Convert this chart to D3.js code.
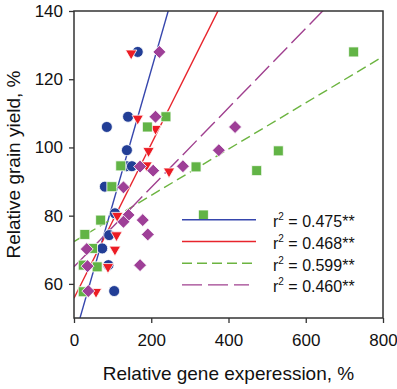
<!DOCTYPE html>
<html lang="en">
<head>
    <meta charset="UTF-8">
    <title>Grain yield vs gene expression</title>
    <script src="https://d3js.org/d3.v7.min.js"></script>
    <style>
        body {margin:0;background:#fff}
        text {font-family:"Liberation Sans", Arial, sans-serif}
    </style>
</head>
<body>
    <div id="chart"></div>
    <script>
        // points (x = relative gene expression %, y = relative grain yield %)
        var blueX = [165, 140, 85, 137, 136, 150, 80, 106, 91, 73, 89, 104];
        var blueY = [128, 109, 106, 99.2, 94.5, 94.5, 88.5, 80.7, 74.3, 70.4, 65.5, 57.9];
        var redX = [148, 165, 211, 193, 188, 246, 112, 110, 106, 88, 57];
        var redY = [127.6, 108.5, 105.5, 99, 94.8, 93, 80, 74.3, 70.1, 65, 57.7];
        var greenX = [724, 238, 190, 121, 316, 473, 529, 98, 335, 69, 28, 48, 60, 24, 24];
        var greenY = [128, 109, 106, 94.6, 94.3, 93.2, 99, 88.5, 80.2, 78.7, 74.5, 70.4, 65, 65.5, 57.7];
        var purpleX = [221, 211, 417, 375, 171, 205, 282, 128, 141, 128, 178, 191, 33, 35, 171, 37];
        var purpleY = [128, 109, 106, 99.2, 94.4, 93.2, 94.5, 88.3, 80.2, 78.2, 78.7, 74.5, 70.2, 65.2, 65.5, 57.9];

        // fitted lines: y = intercept + slope * x
        var fitIntercepts = [43.9, 55.8, 72.4, 65.0];
        var fitSlopes = [0.394, 0.226, 0.0678, 0.1165];
        var r2Labels = ["0.475**", "0.468**", "0.599**", "0.460**"];

        var xTicks = [0, 200, 400, 600, 800];
        var yTicks = [60, 80, 100, 120, 140];

        var W = 397, H = 389;
        var margin = { top: 11, right: 14, bottom: 71, left: 74 };
        var w = W - margin.left - margin.right;
        var h = H - margin.top - margin.bottom;

        var markColors = ["#223e96", "#ec1c24", "#62b446", "#9e3f97"];
        var lineColors = ["#3646ad", "#e8242c", "#6cb440", "#a0408f"];
        var dashes = [null, null, "10,5", "20,6"];

        var svg = d3.select("#chart")
            .append("svg")
            .attr("width", W)
            .attr("height", H);

        var g = svg.append("g")
            .attr("transform", `translate(${margin.left},${margin.top})`);

        var xScale = d3.scaleLinear().domain([0, 800]).range([0, w]);
        var yScale = d3.scaleLinear().domain([50, 140]).range([h, 0]);

        g.append("clipPath").attr("id", "plotclip")
            .append("rect").attr("width", w).attr("height", h);

        // regression lines
        var fits = fitIntercepts.map((a, i) => ({ a: a, b: fitSlopes[i], i: i }));
        var line = d3.line().x(d => xScale(d[0])).y(d => yScale(d[1]));
        g.append("g").attr("clip-path", "url(#plotclip)")
            .selectAll("path")
            .data(fits)
            .enter()
            .append("path")
            .attr("d", d => line(xScale.domain().map(x => [x, d.a + d.b * x])))
            .attr("fill", "none")
            .attr("stroke", d => lineColors[d.i])
            .attr("stroke-width", 1.4)
            .attr("stroke-dasharray", d => dashes[d.i]);

        // markers
        function pts(xs, ys) { return xs.map((x, i) => [x, ys[i]]); }
        var series = [
            { data: pts(blueX, blueY), sym: d3.symbol().type(d3.symbolCircle).size(95), rot: 0 },
            { data: pts(redX, redY), sym: d3.symbol().type(d3.symbolTriangle).size(56), rot: 180 },
            { data: pts(greenX, greenY), sym: d3.symbol().type(d3.symbolSquare).size(100), rot: 0 },
            { data: pts(purpleX, purpleY), sym: d3.symbol().type(d3.symbolSquare).size(84), rot: 45 }
        ];
        series.forEach(function(s, k) {
            g.append("g")
                .selectAll("path")
                .data(s.data)
                .enter()
                .append("path")
                .attr("d", s.sym)
                .attr("transform", d => `translate(${xScale(d[0])},${yScale(d[1])}) rotate(${s.rot})`)
                .attr("fill", markColors[k])
                .attr("stroke", "#fff")
                .attr("stroke-width", 0.8);
        });

        // axes
        var xAxis = g.append("g")
            .attr("transform", `translate(0,${h})`)
            .call(d3.axisBottom(xScale).tickValues(xTicks).tickSize(5).tickPadding(11).tickSizeOuter(0));
        var yAxis = g.append("g")
            .call(d3.axisLeft(yScale).tickValues(yTicks).tickSize(5).tickPadding(6).tickSizeOuter(0));
        [xAxis, yAxis].forEach(function(ax) {
            ax.selectAll("text").attr("font-size", "17px").attr("fill", "#111")
                .attr("font-family", "'Liberation Sans', Arial, sans-serif");
            ax.selectAll("line").attr("stroke", "#333").attr("stroke-width", 1.3);
            ax.select(".domain").remove();
        });

        g.append("rect")
            .attr("width", w)
            .attr("height", h)
            .attr("fill", "none")
            .attr("stroke", "#333")
            .attr("stroke-width", 1.5);

        // legend
        var legend = g.append("g");
        var rows = legend.selectAll("g")
            .data(r2Labels)
            .enter()
            .append("g")
            .attr("transform", (d, i) => `translate(0,${219.8 + i * 21.7 - margin.top})`);
        rows.append("line")
            .attr("x1", 182 - margin.left)
            .attr("x2", (d, i) => (i === 3 ? 249 : 256) - margin.left)
            .attr("stroke", (d, i) => lineColors[i])
            .attr("stroke-width", 1.4)
            .attr("stroke-dasharray", (d, i) => dashes[i]);
        var lt = rows.append("text")
            .attr("x", 273 - margin.left)
            .attr("y", 7.5)
            .attr("font-size", "16px")
            .attr("fill", "#111");
        lt.append("tspan").text("r");
        lt.append("tspan").attr("font-size", "10px").attr("dy", -7).text("2");
        lt.append("tspan").attr("dy", 7).text(d => " = " + d);

        // axis titles
        svg.append("text")
            .attr("x", margin.left + w / 2)
            .attr("y", 379.5)
            .attr("text-anchor", "middle")
            .attr("font-size", "19px")
            .attr("fill", "#111")
            .text("Relative gene experession, %");

        svg.append("text")
            .attr("transform", "rotate(-90)")
            .attr("x", -(margin.top + h / 2))
            .attr("y", 20)
            .attr("text-anchor", "middle")
            .attr("font-size", "19px")
            .attr("fill", "#111")
            .text("Relative grain yield, %");
    </script>
</body>
</html>
